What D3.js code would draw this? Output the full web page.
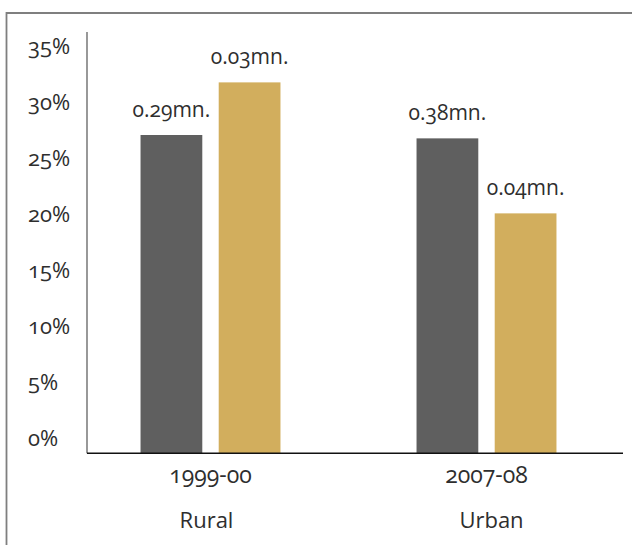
<!DOCTYPE html>
<html>
<head>
<meta charset="utf-8">
<script src="https://cdn.jsdelivr.net/npm/d3@7"></script>
<style>
  html, body { margin: 0; padding: 0; background: #fff; }
  svg text { font-family: "Open Sans", "Noto Sans", sans-serif; font-feature-settings: "onum" 1; fill: #2e2e2e; }
</style>
</head>
<body>
<svg id="chart" width="632" height="545"></svg>
<script>
// Share of population by area, two survey rounds
const areas = ["Rural", "Urban"];
const years = ["1999-00", "2007-08"];
const seriesNames = ["Earlier", "Later"];
const seriesValues = [
  [27.2, 31.9],   // Rural
  [26.9, 20.2]    // Urban
];
const valueLabels = [
  ["0.29mn.", "0.03mn."],
  ["0.38mn.", "0.04mn."]
];
const yTicks = [0, 5, 10, 15, 20, 25, 30, 35];
const colors = ["#5f5f5f", "#d2ae5d"];

const svg = d3.select("#chart");

// outer frame (open on the right and bottom)
svg.append("path")
  .attr("d", "M6.5,545 V13 H632")
  .attr("fill", "none")
  .attr("stroke", "#7f7f7f")
  .attr("stroke-width", 1.8);

const y = d3.scaleLinear().domain([-1.23, 36.4]).range([453.3, 32]);

const x0 = d3.scaleBand().domain(areas).range([72.5, 624.5])
  .paddingInner(0.493).paddingOuter(0.2465);
const x1 = d3.scaleBand().domain(d3.range(seriesNames.length))
  .range([0, x0.bandwidth()]).paddingInner(0.21);

// y axis line
svg.append("line")
  .attr("x1", 87).attr("x2", 87)
  .attr("y1", y.range()[1]).attr("y2", y.range()[0])
  .attr("stroke", "#7f7f7f").attr("stroke-width", 1.6);

// y tick labels
svg.append("g").selectAll("text")
  .data(yTicks)
  .join("text")
  .attr("x", 28)
  .attr("y", d => y(d))
  .attr("dy", "0.3em")
  .attr("font-size", 22)
  .text(d => d + "%");

// bars
const groups = svg.append("g").selectAll("g")
  .data(areas)
  .join("g")
  .attr("transform", d => `translate(${x0(d)},0)`);

groups.selectAll("rect")
  .data((d, i) => seriesValues[i].map((v, j) => ({ v, j, i })))
  .join("rect")
  .attr("x", d => x1(d.j))
  .attr("width", x1.bandwidth())
  .attr("y", d => y(d.v))
  .attr("height", d => y.range()[0] - y(d.v))
  .attr("fill", d => colors[d.j]);

groups.selectAll("text.val")
  .data((d, i) => seriesValues[i].map((v, j) => ({ v, j, i })))
  .join("text")
  .attr("class", "val")
  .attr("x", d => x1(d.j) + x1.bandwidth() / 2)
  .attr("y", d => y(d.v) - 18)
  .attr("text-anchor", "middle")
  .attr("font-size", 21)
  .text(d => valueLabels[d.i][d.j]);

// x axis baseline
svg.append("line")
  .attr("x1", 87).attr("x2", 623)
  .attr("y1", y.range()[0]).attr("y2", y.range()[0])
  .attr("stroke", "#111").attr("stroke-width", 1.6);

// category labels
const cats = svg.append("g").selectAll("g")
  .data(areas)
  .join("g")
  .attr("transform", d => `translate(${x0(d) + x0.bandwidth() / 2},0)`);

cats.append("text")
  .attr("y", 483)
  .attr("text-anchor", "middle")
  .attr("font-size", 23)
  .text((d, i) => years[i]);

cats.append("text")
  .attr("x", (d, i) => i === 0 ? -4 : 5)
  .attr("y", 528)
  .attr("text-anchor", "middle")
  .attr("font-size", 22)
  .text(d => d);
</script>
</body>
</html>
